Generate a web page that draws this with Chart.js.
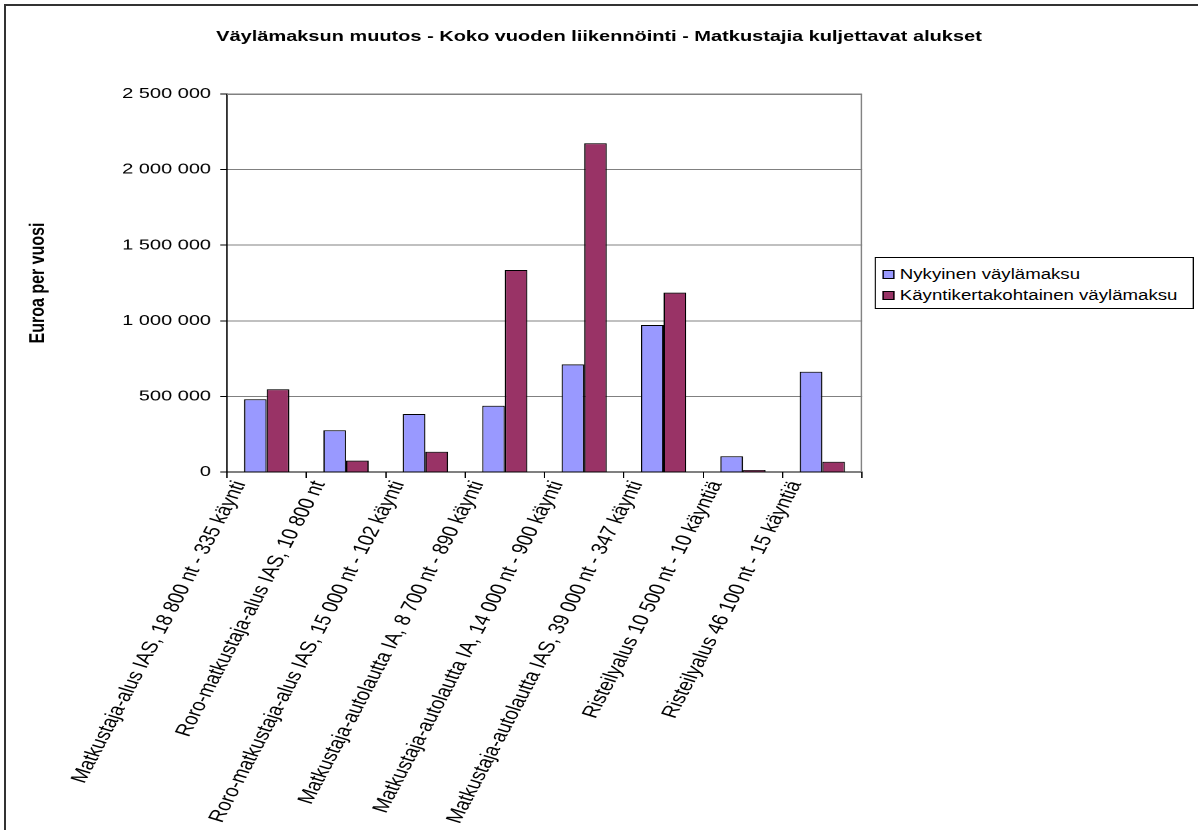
<!DOCTYPE html>
<html>
<head>
<meta charset="utf-8">
<script src="https://cdn.jsdelivr.net/npm/chart.js@4/dist/chart.umd.min.js"></script>
<style>
  html, body { margin: 0; padding: 0; background: #fff; overflow: hidden; }
  body { width: 1198px; height: 830px; position: relative; }
  /* the reference is a horizontally stretched Excel chart, so draw narrow and stretch */
  #stage { position: absolute; left: 0; top: 0; width: 900px; height: 830px;
           transform: scaleX(1.3311); transform-origin: 0 0; }
  #chartBox { position: absolute; left: 0; top: 0; width: 900px; height: 830px; }
  #frame { position: absolute; left: 4px; top: 4px; width: 1300px; height: 900px;
           border-left: 2px solid #333; border-top: 2px solid #333; pointer-events: none; }
  #legend { position: absolute; left: 657px; top: 257px; width: 238px; height: 50px;
            border: 1px solid #000; background: #fff;
            font-family: "Liberation Sans", Arial, sans-serif; font-size: 14px; color: #000; }
  #legend .row { position: absolute; left: 5px; height: 20px; line-height: 20px; white-space: nowrap; }
  #legend .sw { display: inline-block; width: 7px; height: 7px; border: 1px solid #000;
                margin-right: 4px; vertical-align: 0px; }
</style>
</head>
<body>
<div id="stage">
  <div id="chartBox"><canvas id="myChart"></canvas></div>
  <div id="legend"></div>
</div>
<div id="frame"></div>
<script>
(function() {
    const categories = [
        'Matkustaja-alus IAS, 18 800 nt - 335 käynti',
        'Roro-matkustaja-alus IAS, 10 800 nt',
        'Roro-matkustaja-alus IAS, 15 000 nt - 102 käynti',
        'Matkustaja-autolautta IA, 8 700 nt - 890 käynti',
        'Matkustaja-autolautta IA, 14 000 nt - 900 käynti',
        'Matkustaja-autolautta IAS, 39 000 nt - 347 käynti',
        'Risteilyalus 10 500 nt - 10 käyntiä',
        'Risteilyalus 46 100 nt - 15 käyntiä'
    ];
    const seriesNames = ['Nykyinen väylämaksu', 'Käyntikertakohtainen väylämaksu'];
    const nykyinen = [481000, 276000, 384000, 438000, 712000, 972000, 104000, 663000];
    const kayntikerta = [547000, 75000, 134000, 1336000, 2174000, 1186000, 13000, 68000];
    const yTicks = [0, 500000, 1000000, 1500000, 2000000, 2500000];
    const yTickLabels = ['0', '500 000', '1 000 000', '1 500 000', '2 000 000', '2 500 000'];
    const colors = ['#9999FF', '#993366'];

    const FONT = '"Liberation Sans", Arial, sans-serif';

    // grey frame around the plot area like Excel
    const plotBorder = {
        id: 'plotBorder',
        afterDraw(chart) {
            const a = chart.chartArea;
            const ctx = chart.ctx;
            ctx.save();
            ctx.strokeStyle = '#808080';
            ctx.lineWidth = 1;
            ctx.beginPath();
            ctx.moveTo(a.left, a.top + 0.5);
            ctx.lineTo(a.right - 0.5, a.top + 0.5);
            ctx.lineTo(a.right - 0.5, a.bottom);
            ctx.stroke();
            ctx.restore();
        }
    };

    const ctx = document.getElementById('myChart');
    new Chart(ctx, {
        type: 'bar',
        data: {
            labels: categories,
            datasets: [{
                label: seriesNames[0],
                data: nykyinen,
                backgroundColor: colors[0],
                borderColor: '#000',
                borderWidth: 1
            }, {
                label: seriesNames[1],
                data: kayntikerta,
                backgroundColor: colors[1],
                borderColor: '#000',
                borderWidth: 1
            }]
        },
        options: {
            responsive: true,
            maintainAspectRatio: false,
            animation: false,
            devicePixelRatio: 2,
            layout: { padding: 0 },
            datasets: { bar: { categoryPercentage: 0.57, barPercentage: 1 } },
            plugins: {
                legend: { display: false },
                tooltip: { enabled: false },
                title: {
                    display: true,
                    text: 'Väylämaksun muutos - Koko vuoden liikennöinti - Matkustajia kuljettavat alukset',
                    color: '#000',
                    font: { family: FONT, size: 15, weight: 'bold', lineHeight: 1.2 },
                    padding: { top: 28, bottom: 48 }
                }
            },
            scales: {
                x: {
                    offset: true,
                    grid: { display: true, offset: true, drawOnChartArea: false, tickLength: 6, color: '#000' },
                    border: { color: '#000' },
                    ticks: {
                        color: '#000',
                        font: { family: FONT, size: 17 },
                        minRotation: 68,
                        maxRotation: 68,
                        autoSkip: false,
                        padding: 0,
                        labelOffset: -20
                    },
                    afterFit(scale) { scale.height = 358; }
                },
                y: {
                    min: 0,
                    max: 2500000,
                    afterBuildTicks(scale) { scale.ticks = yTicks.map(v => ({ value: v })); },
                    grid: { color: '#808080', tickColor: '#000', tickLength: 5 },
                    border: { color: '#000' },
                    ticks: {
                        color: '#000',
                        font: { family: FONT, size: 15 },
                        padding: 7,
                        callback(value) { return yTickLabels[yTicks.indexOf(value)]; }
                    },
                    title: {
                        display: true,
                        text: 'Euroa per vuosi',
                        color: '#000',
                        font: { family: FONT, size: 16, weight: 'bold', lineHeight: 1.2 },
                        padding: { top: 19, bottom: 0 }
                    },
                    afterFit(scale) { scale.width = 170.5; }
                },
                // empty right-hand axis: reserves the room where the legend sits
                spacer: {
                    type: 'linear',
                    position: 'right',
                    display: true,
                    grid: { display: false },
                    border: { display: false },
                    ticks: { display: false },
                    afterFit(scale) { scale.width = 252.4; }
                }
            }
        },
        plugins: [plotBorder]
    });

    // legend box (html, kept as real text)
    const legend = document.getElementById('legend');
    seriesNames.forEach(function(name, i) {
        const row = document.createElement('div');
        row.className = 'row';
        row.style.top = (6 + i * 21) + 'px';
        row.innerHTML = '<span class="sw" style="background:' + colors[i] + '"></span>' + name;
        legend.appendChild(row);
    });
})();
</script>
</body>
</html>
